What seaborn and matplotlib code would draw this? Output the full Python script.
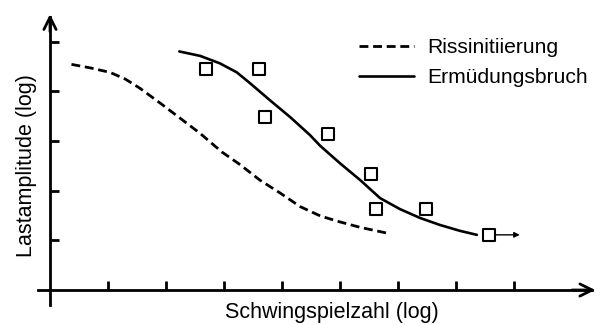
import numpy as np
import pandas as pd
import matplotlib
matplotlib.use('Agg')
import matplotlib.pyplot as plt
import seaborn as sns

# Kurven und Messpunkte (log-Einheiten)
riss_x = [0.37, 0.69, 1.03, 1.29, 1.55, 1.90, 2.24, 2.59, 2.96, 3.28, 3.62,
          3.97, 4.31, 4.66, 5.00, 5.35, 5.83]
riss_y = [4.54, 4.47, 4.38, 4.25, 4.06, 3.76, 3.46, 3.15, 2.78, 2.52, 2.21,
          1.95, 1.68, 1.49, 1.37, 1.26, 1.14]
bruch_x = [2.23, 2.59, 2.93, 3.22, 3.45, 3.79, 4.14, 4.48, 4.66, 5.00, 5.35,
           5.69, 6.03, 6.38, 6.72, 7.07, 7.36]
bruch_y = [4.80, 4.71, 4.56, 4.38, 4.16, 3.82, 3.48, 3.12, 2.90, 2.55, 2.21,
           1.85, 1.63, 1.45, 1.31, 1.19, 1.11]
punkte_x = [2.69, 3.60, 3.71, 4.79, 5.53, 5.62, 6.48, 7.57]
punkte_y = [4.45, 4.45, 3.48, 3.14, 2.33, 1.63, 1.63, 1.11]
durchlaeufer_ende = 8.10
xticks = [1, 2, 3, 4, 5, 6, 7, 8]
yticks = [1, 2, 3, 4, 5]

sns.set_style('white')
plt.rcParams['font.family'] = ['Liberation Sans', 'DejaVu Sans']
plt.rcParams['text.color'] = 'black'

fig = plt.figure(figsize=(5.96, 3.25), dpi=100)
ax = fig.add_axes([0, 0, 1, 1])
ax.set_xlim(-0.862, 9.414)
ax.set_ylim(-0.704, 5.835)

df_riss = pd.DataFrame({'x': riss_x, 'y': riss_y})
df_bruch = pd.DataFrame({'x': bruch_x, 'y': bruch_y})
df_punkte = pd.DataFrame({'x': punkte_x, 'y': punkte_y})

sns.lineplot(data=df_riss, x='x', y='y', ax=ax, color='black', lw=2.0,
             linestyle=(0, (3.2, 1.7)), sort=False, label='Rissinitiierung')
sns.lineplot(data=df_bruch, x='x', y='y', ax=ax, color='black', lw=1.9,
             sort=False, label='Ermüdungsbruch')
sns.scatterplot(data=df_punkte, x='x', y='y', ax=ax, marker='s', s=80,
                facecolor='white', edgecolor='black', linewidth=1.5, zorder=5,
                legend=False)

# Durchläufer-Pfeil
ax.annotate('', xy=(durchlaeufer_ende, punkte_y[-1]), xytext=(punkte_x[-1] + 0.12, punkte_y[-1]),
            arrowprops=dict(arrowstyle='-|>', color='black', lw=1.0,
                            mutation_scale=8, shrinkA=0, shrinkB=0))

# Achsen mit Pfeilen
for s in ['top', 'right']:
    ax.spines[s].set_visible(False)
ax.spines['left'].set_position(('data', 0))
ax.spines['bottom'].set_position(('data', 0))
ax.spines['left'].set_bounds(-0.3, 5.5)
ax.spines['bottom'].set_bounds(-0.2, 9.35)
for s in ['left', 'bottom']:
    ax.spines[s].set_linewidth(2.0)
    ax.spines[s].set_color('black')
ax.annotate('', xy=(0, 5.55), xytext=(0, 5.2),
            arrowprops=dict(arrowstyle='->', color='black', lw=2.0,
                            mutation_scale=22, shrinkA=0, shrinkB=0))
ax.annotate('', xy=(9.40, 0), xytext=(9.0, 0),
            arrowprops=dict(arrowstyle='->', color='black', lw=2.0,
                            mutation_scale=22, shrinkA=0, shrinkB=0))

ax.set_xticks(xticks)
ax.set_yticks(yticks)
ax.tick_params(direction='in', length=6.5, width=2.0, color='black',
               labelbottom=False, labelleft=False, bottom=True, left=True)
ax.set_xlabel('')
ax.set_ylabel('')

ax.text(4.86, -0.46, 'Schwingspielzahl (log)', fontsize=15.5, ha='center', va='center')
ax.text(-0.40, 2.50, 'Lastamplitude (log)', fontsize=15.5, ha='center', va='center',
        rotation=90)

ax.legend(loc='upper left', bbox_to_anchor=(0.589, 0.908), frameon=False,
          fontsize=15.2, handlelength=2.6, handletextpad=0.6, labelspacing=0.5,
          borderaxespad=0, labelcolor='black')

fig.savefig('out.png', dpi=100)
